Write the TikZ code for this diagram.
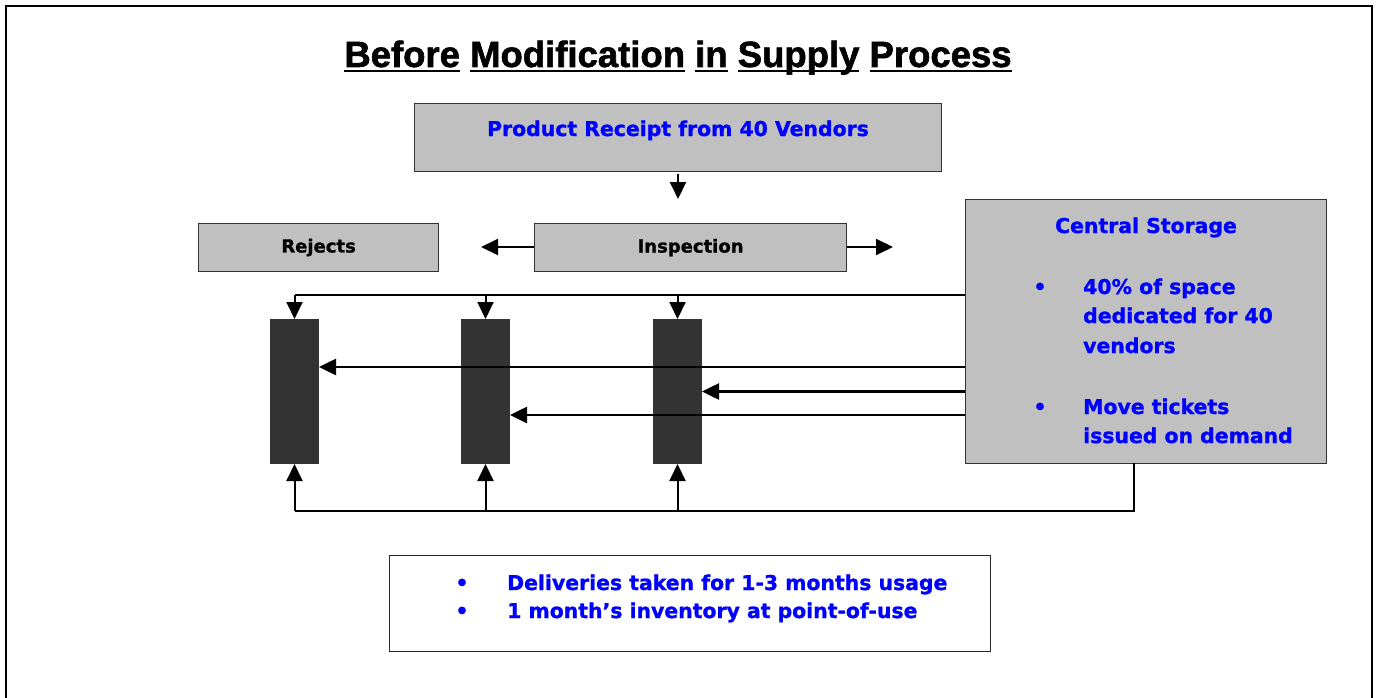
\documentclass[tikz,border=0pt]{standalone}
\usepackage{fontspec}
\setmainfont{DejaVu Sans}
\newfontfamily\heavyfont{DejaVu Sans Bold}[FakeBold=1.2]
\newfontfamily\titlefont{Liberation Sans Bold}[FakeBold=1.6]
\usetikzlibrary{arrows.meta}
\definecolor{boxgray}{RGB}{192,192,192}
\definecolor{bardark}{RGB}{51,51,51}
\definecolor{txtblue}{RGB}{0,0,255}
\newcommand\wordul[1]{\setbox0\hbox{#1}\rlap{\rule[-5.5pt]{\wd0}{2.4pt}}\box0\relax}
\tikzset{
  graybox/.style={draw=black!80, line width=1.2pt, fill=boxgray, inner sep=0pt, anchor=north west},
  barbox/.style={draw=black!80, fill=bardark, line width=1pt, minimum width=48pt, minimum height=144pt, inner sep=0pt, anchor=north west},
  btxt/.style={font=\heavyfont\fontsize{20.4}{24}\selectfont, text=txtblue, inner sep=0pt, anchor=base west},
  blktxt/.style={font=\heavyfont\fontsize{18}{22}\selectfont, text=black},
  conn/.style={line width=2pt},
  thinconn/.style={line width=1.6pt},
  arr/.style={line width=2pt, -{Triangle[length=17pt,width=16pt]}},
  harr/.style={line width=2.6pt, -{Triangle[length=17pt,width=16pt]}}
}
\begin{document}
\begin{tikzpicture}[x=1pt,y={(0pt,-1pt)}]
\useasboundingbox (0,0) rectangle (1378,698);
\fill[white] (0,0) rectangle (1378,698);
\draw[line width=2.5pt] (6,698) -- (6,6) -- (1372,6) -- (1372,698);

% title
\node[font=\titlefont\fontsize{36.5}{40}\selectfont, anchor=base, inner sep=0pt] (title) at (678,67)
  {\wordul{Before} \wordul{Modification} \wordul{in} \wordul{Supply} \wordul{Process}};

% boxes
\node[graybox, minimum width=527pt, minimum height=68pt] (prod) at (414,103) {};
\node[btxt, anchor=base] (prodtxt) at (678,136) {Product Receipt from 40 Vendors};
\node[graybox, blktxt, minimum width=240pt, minimum height=48pt] (rej) at (198,223) {Rejects};
\node[graybox, blktxt, minimum width=312pt, minimum height=48pt] (insp) at (534,223) {Inspection};
\node[graybox, minimum width=361pt, minimum height=264pt] (stor) at (965,199) {};
\node[barbox] (b1) at (270,319) {};
\node[barbox] (b2) at (461,319) {};
\node[barbox] (b3) at (653,319) {};
\node[draw=black!85, line width=1.2pt, fill=white, minimum width=601pt, minimum height=96pt, inner sep=0pt, anchor=north west] (note) at (389,555) {};

% storage text
\node[btxt, anchor=base] (sttitle) at (1146,233) {Central Storage};
\node[btxt, anchor=base] (sb1) at (1040,294) {•};
\node[btxt] (s1) at (1083,294) {40\% of space};
\node[btxt] (s2) at (1083,323) {dedicated for 40};
\node[btxt] (s3) at (1083,353) {vendors};
\node[btxt, anchor=base] (sb2) at (1040,414) {•};
\node[btxt] (s4) at (1083,414) {Move tickets};
\node[btxt] (s5) at (1083,443) {issued on demand};

% note text
\node[btxt, anchor=base] (nb1) at (462,590) {•};
\node[btxt] (n1) at (507,590) {Deliveries taken for 1-3 months usage};
\node[btxt, anchor=base] (nb2) at (462,618) {•};
\node[btxt] (n2) at (507,618) {1 month’s inventory at point-of-use};

% arrows
\coordinate (pdown) at (678,199);
\coordinate (pstart) at (678,174);
\draw[arr] (pstart) -- (pdown);
\coordinate (rejend) at (481,247);
\coordinate (outend) at (893,247);
\draw[arr] (insp.west |- rejend) -- (rejend);
\draw[arr] (insp.east |- outend) -- (outend);

% top distribution
\coordinate (tl) at (b1.north |- 0,295);
\draw[thinconn] (stor.west |- tl) -- (tl);
\draw[arr] (tl) -- (b1.north);
\draw[arr] (b2.north |- tl) -- (b2.north);
\draw[arr] (b3.north |- tl) -- (b3.north);

% horizontal feeds
\draw[harr] (stor.west |- 0,367) -- (b1.east |- 0,367);
\draw[harr] (stor.west |- b3.east) -- (b3.east);
\draw[harr] (stor.west |- 0,415) -- (b2.east |- 0,415);

% bottom return
\coordinate (bs) at (1134,463);
\coordinate (bc) at (1134,511);
\coordinate (bl) at (b1.south |- bc);
\draw[conn] (bs) -- (bc) -- (bl);
\draw[arr] (bl) -- (b1.south);
\draw[arr] (b2.south |- bc) -- (b2.south);
\draw[arr] (b3.south |- bc) -- (b3.south);
\end{tikzpicture}
\end{document}
